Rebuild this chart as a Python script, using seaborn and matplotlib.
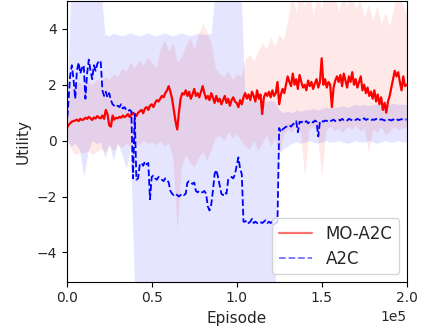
import numpy as np
import pandas as pd
import matplotlib
matplotlib.use("Agg")
import matplotlib.pyplot as plt
import seaborn as sns

# ---------------- data ----------------
episodes_line = list(range(0, 200001, 1000))
episodes_band = list(range(0, 200001, 2500))

mo_a2c_mean = [
    0.45, 0.55, 0.62, 0.68, 0.70, 0.72, 0.75, 0.70, 0.78, 0.74,
    0.76, 0.82, 0.78, 0.85, 0.80, 0.74, 0.83, 0.79, 0.88, 0.82,
    0.80, 0.90, 0.78, 1.10, 0.95, 0.55, 0.50, 0.90, 0.75, 0.82,
    0.80, 0.85, 0.82, 0.90, 0.84, 0.88, 0.95, 0.85, 0.92, 1.00,
    0.95, 0.88, 1.00, 1.05, 1.10, 0.98, 1.15, 1.20, 1.10, 1.25,
    1.30, 1.20, 1.35, 1.45, 1.40, 1.50, 1.60, 1.55, 1.70, 1.80,
    1.95, 1.75, 1.50, 1.10, 0.70, 0.40, 1.00, 1.50, 1.70, 1.65,
    1.80, 1.60, 1.75, 1.50, 1.65, 1.85, 1.60, 1.70, 1.55, 1.75,
    1.95, 1.70, 1.50, 1.60, 1.45, 1.70, 1.55, 1.35, 1.60, 1.40,
    1.50, 1.30, 1.45, 1.60, 1.35, 1.50, 1.25, 1.45, 1.55, 1.40,
    1.35, 1.20, 1.45, 1.30, 1.55, 1.70, 1.50, 1.65, 1.45, 1.75,
    1.60, 1.40, 1.80, 1.50, 1.65, 0.95, 1.55, 1.70, 1.60, 1.75,
    1.55, 1.80, 1.60, 1.70, 2.10, 1.30, 1.65, 1.85, 1.70, 2.00,
    2.30, 2.10, 1.95, 2.40, 2.00, 2.20, 1.85, 2.35, 2.10, 1.90,
    2.00, 1.80, 2.15, 1.95, 2.10, 1.85, 2.05, 2.20, 1.90, 2.10,
    2.95, 2.00, 2.20, 1.90, 2.10, 2.00, 1.20, 1.90, 2.15, 2.30,
    2.10, 2.35, 1.95, 2.40, 2.15, 1.90, 2.30, 2.10, 2.45, 2.00,
    2.20, 1.90, 2.10, 2.30, 1.80, 2.00, 1.70, 1.90, 1.60, 1.75,
    1.50, 1.80, 1.40, 1.65, 1.30, 1.55, 1.10, 1.35, 1.00, 1.40,
    1.60, 1.90, 2.20, 2.50, 2.30, 2.45, 2.10, 1.80, 2.30, 1.95,
    2.00,
]

a2c_mean = [
    0.50, 1.40, 2.30, 2.70, 2.20, 1.50, 2.50, 2.80, 2.40, 2.60,
    2.70, 1.50, 2.40, 2.90, 2.50, 2.20, 2.70, 2.50, 2.75, 2.85,
    2.85, 1.80, 1.60, 1.75, 1.55, 1.70, 1.45, 1.30, 1.25, 1.20,
    1.25, 1.20, 1.30, 1.15, 1.20, 1.10, 1.05, 1.10, 1.05, -1.35,
    0.95, -1.40, -1.35, -0.85, -0.80, -0.90, -0.75, -0.85, -0.80, -2.10,
    -1.30, -1.25, -1.35, -1.40, -1.30, -1.35, -1.40, -1.45, -1.35, -1.40,
    -1.50, -1.80, -1.90, -1.95, -1.90, -1.95, -2.00, -1.95, -1.90, -1.95,
    -1.90, -1.50, -1.45, -1.50, -1.55, -1.50, -1.80, -1.85, -1.80, -1.85,
    -1.85, -1.80, -1.90, -2.35, -2.50, -2.30, -1.80, -1.20, -1.05, -1.30,
    -1.60, -1.90, -1.95, -1.85, -1.90, -1.40, -1.35, -1.30, -1.35, -1.20,
    -0.90, -0.60, -1.00, -1.20, -2.90, -2.90, -2.85, -2.95, -2.90, -2.80,
    -2.95, -2.90, -2.95, -2.90, -2.92, -2.95, -2.90, -2.85, -2.95, -2.90,
    -2.95, -2.90, -3.00, -2.95, -2.90, 0.45, 0.30, 0.40, 0.45, 0.50,
    0.50, 0.55, 0.50, 0.58, 0.62, 0.70, 0.30, 0.68, 0.65, 0.70,
    0.65, 0.70, 0.62, 0.68, 0.70, 0.65, 0.72, 0.68, 0.15, 0.70,
    0.70, 0.68, 0.72, 0.70, 0.74, 0.70, 0.72, 0.75, 0.70, 0.74,
    0.75, 0.72, 0.78, 0.74, 0.76, 0.72, 0.78, 0.75, 0.73, 0.77,
    0.74, 0.78, 0.75, 0.72, 0.76, 0.80, 0.74, 0.77, 0.75, 0.72,
    0.76, 0.74, 0.78, 0.75, 0.73, 0.77, 0.75, 0.72, 0.76, 0.74,
    0.75, 0.72, 0.76, 0.74, 0.78, 0.73, 0.75, 0.77, 0.74, 0.76,
    0.75,
]

mo_a2c_upper = [
    1.0, 1.8, 2.0, 2.1, 1.95, 2.1, 2.0, 2.2, 2.1, 2.3,
    2.2, 2.4, 2.3, 2.6, 2.5, 2.8, 2.6, 2.9, 2.7, 3.0,
    2.8, 2.6, 3.3, 3.6, 3.2, 3.5, 2.8, 3.0, 3.4, 3.7,
    3.3, 3.8, 4.2, 3.9, 3.5, 2.6, 2.4, 2.3, 2.5, 2.2,
    2.4, 2.3, 2.9, 3.1, 2.85, 3.2, 3.5, 3.3, 3.7, 3.4,
    3.8, 3.6, 4.3, 5.3, 4.6, 5.5, 4.8, 5.4, 4.5, 5.2,
    4.7, 5.6, 4.9, 5.3, 4.6, 5.2, 4.8, 5.5, 4.7, 5.1,
    4.4, 4.9, 4.3, 4.8, 4.2, 4.6, 4.1, 4.8, 5.3, 4.9,
    4.5,
]

mo_a2c_lower = [
    0.2, -0.3, -0.5, -0.4, -0.45, -0.35, -0.5, -0.4, -0.3, -0.4,
    -0.2, -0.35, -0.15, -0.25, -0.1, -0.2, -0.05, -0.15, 0.0, -0.1,
    -0.05, -0.15, 0.0, -0.2, -0.1, -0.6, -3.2, -0.9, -0.5, -0.8,
    -0.95, -0.6, -0.4, -0.7, -0.3, 0.1, 0.2, 0.0, 0.3, 0.1,
    0.25, 0.0, -0.2, -0.3, 0.0, -0.35, -0.1, 0.2, -0.2, 0.1,
    -0.5, 0.2, 0.4, 0.3, 0.5, 0.35, -1.3, 0.4, 0.5, 0.3,
    -1.3, 0.4, 0.5, 0.35, 0.45, 0.3, 0.5, 0.4, 0.55, 0.35,
    0.45, -0.4, 0.4, 0.3, 0.5, 0.2, 0.35, 0.5, 0.4, 0.45,
    0.5,
]

a2c_upper = [
    1.0, 5.5, 5.5, 5.5, 5.5, 5.5, 5.5, 5.5, 5.5, 3.8,
    3.75, 3.85, 3.8, 3.75, 3.8, 3.85, 3.8, 3.75, 3.8, 3.85,
    3.8, 3.75, 3.8, 3.85, 3.8, 3.75, 3.8, 3.85, 3.8, 3.75,
    3.8, 3.85, 3.8, 3.8, 3.85, 5.5, 5.5, 5.5, 5.5, 5.5,
    5.5, 5.5, 1.4, 1.45, 1.4, 1.45, 1.4, 1.4, 1.45, 1.4,
    1.1, 1.0, 1.05, 1.0, 1.1, 1.05, 1.1, 1.1, 1.15, 1.1,
    1.15, 1.2, 1.15, 1.2, 1.2, 1.25, 1.2, 1.25, 1.3, 1.25,
    1.3, 1.25, 1.3, 1.3, 1.25, 1.3, 1.3, 1.35, 1.3, 1.3,
    1.3,
]

a2c_lower = [
    0.0, -0.2, -0.1, -0.3, -1.3, -0.4, 0.0, -0.1, -0.05, -0.6,
    -0.1, -0.7, -0.05, -0.5, -1.0, -0.3, -5.5, -5.5, -5.5, -5.5,
    -5.5, -5.5, -5.5, -5.5, -5.5, -5.5, -5.5, -5.5, -5.5, -5.5,
    -5.5, -5.5, -5.5, -5.5, -5.5, -5.5, -5.5, -5.5, -5.5, -5.5,
    -5.5, -5.5, -5.5, -5.5, -5.5, -5.5, -5.5, -5.5, -5.5, -5.5,
    -0.4, -0.3, -0.2, -0.1, -0.05, -0.1, -0.05, 0.0, -0.05, -0.1,
    -0.05, 0.0, -0.05, -0.05, 0.0, -0.05, -0.1, -0.05, 0.0, -0.05,
    -0.05, 0.0, -0.05, -0.1, -0.05, 0.0, -0.05, -0.05, 0.0, -0.05,
    -0.05,
]

legend_labels = ["MO-A2C", "A2C"]
x_ticks = [0, 50000, 100000, 150000, 200000]
y_ticks = [-4, -2, 0, 2, 4]

# ---------------- plot ----------------
sns.set_style("ticks")
plt.rcParams["font.family"] = ["DejaVu Sans"]
plt.rcParams["axes.edgecolor"] = "black"

fig = plt.figure(figsize=(4.26, 3.33), dpi=100)
ax = fig.add_axes([0.1566, 0.154, 0.798, 0.844])

df_line = pd.DataFrame({"Episode": episodes_line,
                        "mo": mo_a2c_mean, "a2c": a2c_mean})
df_band = pd.DataFrame({"Episode": episodes_band,
                        "mo_lo": mo_a2c_lower, "mo_hi": mo_a2c_upper,
                        "a2c_lo": a2c_lower, "a2c_hi": a2c_upper})

ax.fill_between(df_band["Episode"], df_band["mo_lo"], df_band["mo_hi"],
                color="red", alpha=0.09, linewidth=0)
sns.lineplot(data=df_line, x="Episode", y="mo", ax=ax, color="red",
             linewidth=1.6, label=legend_labels[0])
ax.fill_between(df_band["Episode"], df_band["a2c_lo"], df_band["a2c_hi"],
                color="blue", alpha=0.1, linewidth=0)
sns.lineplot(data=df_line, x="Episode", y="a2c", ax=ax, color="blue",
             linewidth=1.3, linestyle="--", label=legend_labels[1])

ax.set_xlim(0, 200000)
ax.set_ylim(-5.05, 5.01)
ax.set_xticks(x_ticks)
ax.set_yticks(y_ticks)
ax.ticklabel_format(axis="x", style="sci", scilimits=(0, 0))
ax.tick_params(labelsize=10, length=3.5, width=0.8, color="black")
ax.xaxis.get_offset_text().set_fontsize(10)
ax.set_xlabel("Episode", fontsize=11)
ax.set_ylabel("Utility", fontsize=11)
for s in ax.spines.values():
    s.set_linewidth(0.8)

leg = ax.legend(loc="lower right", fontsize=12, frameon=True,
                borderaxespad=0.45, labelspacing=0.4)
for ln in leg.get_lines():
    ln.set_alpha(0.55)

fig.savefig("out.png", dpi=100)
